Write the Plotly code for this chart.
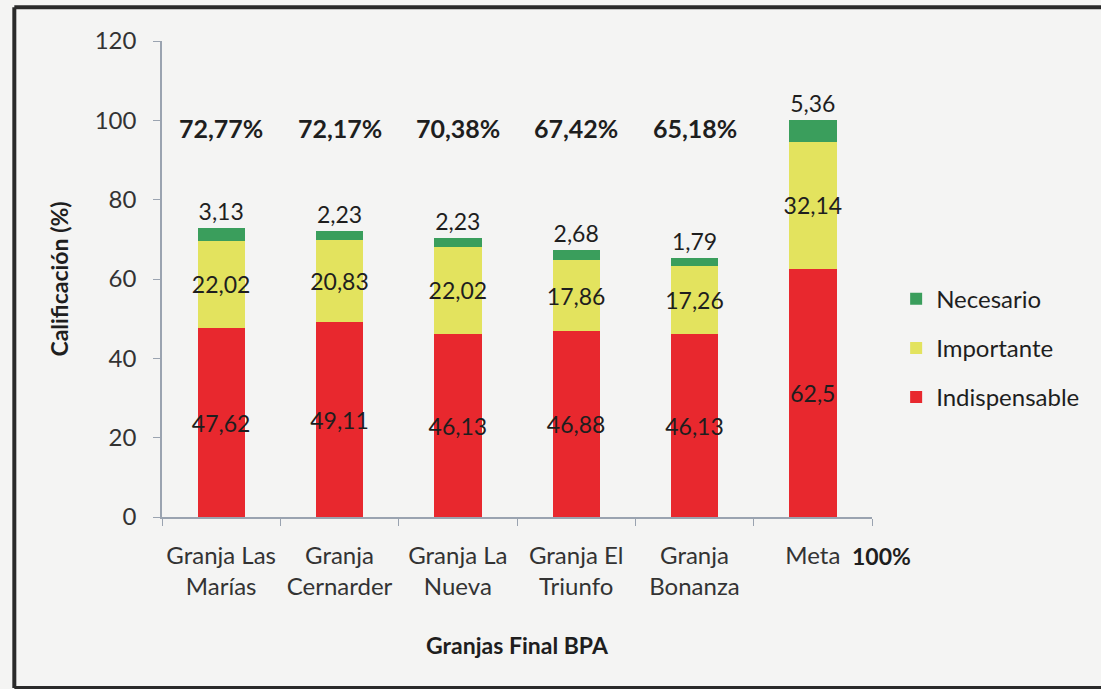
import plotly.graph_objects as go

granjas = ['Granja Las<br>Marías', 'Granja<br>Cernarder', 'Granja La<br>Nueva',
           'Granja El<br>Triunfo', 'Granja<br>Bonanza', 'Meta']
indispensable = [47.62, 49.11, 46.13, 46.88, 46.13, 62.5]
importante = [22.02, 20.83, 22.02, 17.86, 17.26, 32.14]
necesario = [3.13, 2.23, 2.23, 2.68, 1.79, 5.36]
totales = ['72,77%', '72,17%', '70,38%', '67,42%', '65,18%']

FONT = 'Lato'
fondo = '#f4f4f3'
TXT = 23


def etiqueta(v):
    return f'{v:g}'.replace('.', ',')


fig = go.Figure()

fig.add_trace(go.Bar(
    x=granjas, y=indispensable, name='Indispensable',
    legendrank=3, legendgroup='g3',
    marker=dict(color='#e8282e', line=dict(width=0)),
    text=[etiqueta(v) for v in indispensable], textposition='inside',
    insidetextanchor='middle', textangle=0,
    textfont=dict(size=TXT, color='#1e1e1e', family=FONT)
))
fig.add_trace(go.Bar(
    x=granjas, y=importante, name='Importante',
    legendrank=2, legendgroup='g2',
    marker=dict(color='#e3e35e', line=dict(width=0)),
    text=[etiqueta(v) for v in importante], textposition='inside',
    insidetextanchor='middle', textangle=0,
    textfont=dict(size=TXT, color='#1e1e1e', family=FONT)
))
fig.add_trace(go.Bar(
    x=granjas, y=necesario, name='Necesario',
    legendrank=1, legendgroup='g1',
    marker=dict(color='#3a9e5c', line=dict(width=0)),
    text=[etiqueta(v) for v in necesario], textposition='outside',
    textangle=0, cliponaxis=False,
    textfont=dict(size=TXT, color='#1e1e1e', family=FONT)
))

# porcentajes totales sobre cada granja
for g, t in zip(granjas[:5], totales):
    fig.add_annotation(x=g, y=98, text=f'<b>{t}</b>', showarrow=False,
                       font=dict(size=25, color='#1e1e1e', family=FONT))

fig.add_annotation(xref='paper', yref='paper', x=1.013, y=-0.082,
                   xanchor='center', yanchor='middle',
                   text='<b>100%</b>', showarrow=False,
                   font=dict(size=23, color='#1e1e1e', family=FONT))

# marco exterior (el borde derecho queda fuera de la imagen)
borde = dict(color='#2a2a2a', width=4)
fig.add_shape(type='line', xref='paper', yref='paper',
              x0=-0.208, x1=-0.208, y0=-0.359, y1=1.071, line=borde)
fig.add_shape(type='line', xref='paper', yref='paper',
              x0=-0.208, x1=1.6, y0=1.071, y1=1.071, line=borde)
fig.add_shape(type='line', xref='paper', yref='paper',
              x0=-0.208, x1=1.6, y0=-0.359, y1=-0.359, line=borde)

fig.update_layout(
    width=1101, height=689,
    margin=dict(l=162, r=229, t=41, b=172),
    barmode='stack', bargap=0.6,
    uniformtext=dict(mode='show', minsize=TXT),
    paper_bgcolor=fondo, plot_bgcolor=fondo,
    font=dict(family=FONT, color='#333333'),
    legend=dict(x=1.034, y=0.505, xanchor='left', yanchor='top',
                traceorder='grouped', tracegroupgap=15, itemwidth=30,
                font=dict(size=24, color='#1e1e1e', family=FONT),
                bgcolor='rgba(0,0,0,0)'),
    xaxis=dict(
        title=dict(text='<b>Granjas Final BPA</b>', standoff=39,
                   font=dict(size=23, color='#1e1e1e', family=FONT)),
        automargin=False, tickangle=0,
        showline=True, linecolor='#9aa3b0', linewidth=1.5,
        ticks='outside', tickson='boundaries', ticklen=7, tickcolor='#9aa3b0',
        ticklabelstandoff=16,
        tickfont=dict(size=24, color='#333333', family=FONT),
        showgrid=False
    ),
    yaxis=dict(
        title=dict(text='<b>Calificación (%)</b>', standoff=20,
                   font=dict(size=23, color='#1e1e1e', family=FONT)),
        automargin=False,
        range=[0, 120], dtick=20,
        showline=True, linecolor='#9aa3b0', linewidth=1.5,
        ticks='outside', ticklen=7, tickcolor='#9aa3b0',
        ticklabelstandoff=12,
        tickfont=dict(size=24, color='#333333', family=FONT),
        showgrid=False, zeroline=False
    )
)

# sin margen del body para que la figura ocupe la ventana entera
fig.write_html('out.html', config={'displayModeBar': False}, post_script=(
    "document.body.style.margin='0';"
    "document.body.style.overflow='hidden';"
    f"document.body.style.background='{fondo}';"
))
